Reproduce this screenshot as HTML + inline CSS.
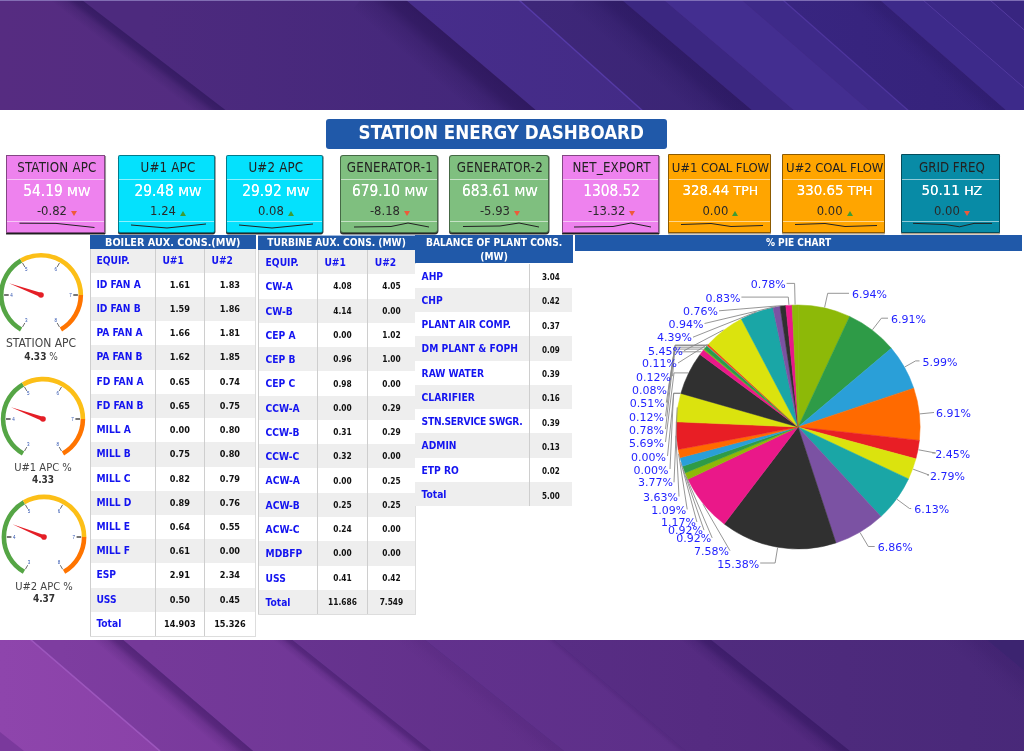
<!DOCTYPE html>
<html lang="en"><head><meta charset="utf-8"><title>Station Energy Dashboard</title>
<style>

html,body{margin:0;padding:0;}
body{width:1024px;height:751px;overflow:hidden;position:relative;background:#4a2a80;font-family:"DejaVu Sans Condensed","Liberation Sans",sans-serif;}
#bg{position:absolute;left:0;top:0;width:1024px;height:751px;}
#panel{position:absolute;left:0;top:110.2px;width:1024px;height:530.1px;background:#fff;}
.abs{position:absolute;}
#title{position:absolute;left:326.3px;top:118.9px;width:340.9px;height:30.2px;background:#2059a9;border-radius:3px;color:#fff;font-weight:700;font-size:18.6px;line-height:27.2px;text-align:center;white-space:nowrap;text-indent:9px;}
.kpi{position:absolute;top:154.6px;height:78.6px;box-sizing:border-box;border:1px solid rgba(0,0,0,.45);text-align:center;white-space:nowrap;}
.kpi.sh{box-shadow:0 1.6px 0.3px rgba(0,0,0,.8),0.9px 0.5px 0.6px rgba(0,0,0,.4);}
.kpi .t{position:absolute;left:2.8px;right:0;top:4px;letter-spacing:.2px;font-size:13.2px;line-height:16px;color:#222;}
.kpi .l1,.kpi .l2{position:absolute;left:0;right:0;height:1px;background:rgba(255,255,255,.55);}
.kpi .l1{top:23px}
.kpi .l2{top:65.2px}
.kpi .v{position:absolute;left:2.8px;right:0;top:26px;font-size:15.3px;line-height:18px;color:#fff;text-shadow:0 0 .3px #fff;}
.kpi .v small{font-size:12.6px;font-family:"DejaVu Sans","Liberation Sans",sans-serif;}
.kpi .d{position:absolute;left:2.8px;right:0;top:47px;font-size:12.9px;line-height:16px;color:#2a2a2a;}
.kpi .d i{display:inline-block;width:0;height:0;margin-left:4px;border-left:3.1px solid transparent;border-right:3.1px solid transparent;position:relative;}
.kpi .d i.up{border-bottom:5px solid #3f9c35;top:1.5px;}
.kpi .d i.dn{border-top:5px solid #ee5a3a;top:1.5px;}
.kpi svg{position:absolute;left:0;top:64.5px;}
.kpi.ns .v{font-size:14.9px;}
.kpi.ns .l1{top:23.8px}
.kpi.ns .t{top:4.6px}
.kpi.ns .d{top:47.6px}
.kpi.ns .l2{top:65.8px}
.kpi.ns svg{top:65px}
.th{position:absolute;background:#2059a9;color:#fff;font-weight:700;font-size:10.8px;text-align:center;white-space:nowrap;}
.row{position:absolute;box-sizing:border-box;}
.row.g{background:#eeeeee;}
.row.w{background:#fff;}
.c{position:absolute;top:0;bottom:0;box-sizing:border-box;border-left:1px solid #cecece;white-space:nowrap;font-weight:700;}
.c.l{color:#1414f0;font-size:10.2px;padding-left:6.6px;}
.c.n{color:#111;text-align:center;}
.glab{position:absolute;width:100px;text-align:center;font-size:12px;line-height:13px;color:#444;white-space:nowrap;}
.glab span{font-size:10px;}
.glab i{font-style:normal;font-size:11.1px;position:relative;top:1px;}
.glab b{color:#333;}

</style></head><body>
<svg id="bg" width="1024" height="751" viewBox="0 0 1024 751">
<defs><clipPath id="ctop"><rect x="0" y="0" width="1024" height="112"/></clipPath><clipPath id="cbot"><rect x="0" y="638" width="1024" height="113"/></clipPath>
<linearGradient id="hg1" gradientUnits="userSpaceOnUse" x1="0" y1="0" x2="230" y2="0"><stop offset="0" stop-color="#562c81"/><stop offset="1" stop-color="#522c80"/></linearGradient>
<linearGradient id="hg2" gradientUnits="userSpaceOnUse" x1="150" y1="0" x2="520" y2="0"><stop offset="0" stop-color="#4d2a7e"/><stop offset="1" stop-color="#42277a"/></linearGradient>
<linearGradient id="hg3" gradientUnits="userSpaceOnUse" x1="420" y1="0" x2="640" y2="0"><stop offset="0" stop-color="#472d8b"/><stop offset="1" stop-color="#432b86"/></linearGradient>
<linearGradient id="hg4" gradientUnits="userSpaceOnUse" x1="530" y1="0" x2="750" y2="0"><stop offset="0" stop-color="#3e2779"/><stop offset="1" stop-color="#3a2474"/></linearGradient>
<linearGradient id="hg5" gradientUnits="userSpaceOnUse" x1="790" y1="0" x2="1000" y2="0"><stop offset="0" stop-color="#382580"/><stop offset="1" stop-color="#35227a"/></linearGradient>
<linearGradient id="sg6" gradientUnits="userSpaceOnUse" x1="82.0" y1="0.0" x2="69.8" y2="15.9"><stop offset="0" stop-color="#2a1558" stop-opacity="0.7"/><stop offset="0.28" stop-color="#2a1558" stop-opacity="0.595"/><stop offset="0.55" stop-color="#2a1558" stop-opacity="0.245"/><stop offset="1" stop-color="#2a1558" stop-opacity="0"/></linearGradient>
<linearGradient id="sg7" gradientUnits="userSpaceOnUse" x1="406.0" y1="0.0" x2="378.8" y2="32.0"><stop offset="0" stop-color="#23104f" stop-opacity="0.6"/><stop offset="0.28" stop-color="#23104f" stop-opacity="0.510"/><stop offset="0.55" stop-color="#23104f" stop-opacity="0.210"/><stop offset="1" stop-color="#23104f" stop-opacity="0"/></linearGradient>
<linearGradient id="sg8" gradientUnits="userSpaceOnUse" x1="622.0" y1="0.0" x2="596.1" y2="30.5"><stop offset="0" stop-color="#1d0e50" stop-opacity="0.42"/><stop offset="0.28" stop-color="#1d0e50" stop-opacity="0.357"/><stop offset="0.55" stop-color="#1d0e50" stop-opacity="0.147"/><stop offset="1" stop-color="#1d0e50" stop-opacity="0"/></linearGradient>
<linearGradient id="sg9" gradientUnits="userSpaceOnUse" x1="742.0" y1="0.0" x2="735.4" y2="7.6"><stop offset="0" stop-color="#1d0e50" stop-opacity="0.0"/><stop offset="0.28" stop-color="#1d0e50" stop-opacity="0.000"/><stop offset="0.55" stop-color="#1d0e50" stop-opacity="0.000"/><stop offset="1" stop-color="#1d0e50" stop-opacity="0"/></linearGradient>
<linearGradient id="sg10" gradientUnits="userSpaceOnUse" x1="880.0" y1="0.0" x2="864.2" y2="18.1"><stop offset="0" stop-color="#1d0e50" stop-opacity="0.22"/><stop offset="0.28" stop-color="#1d0e50" stop-opacity="0.187"/><stop offset="0.55" stop-color="#1d0e50" stop-opacity="0.077"/><stop offset="1" stop-color="#1d0e50" stop-opacity="0"/></linearGradient>
<linearGradient id="hg11" gradientUnits="userSpaceOnUse" x1="0" y1="0" x2="160" y2="0"><stop offset="0" stop-color="#8e45ac"/><stop offset="1" stop-color="#8a42a8"/></linearGradient>
<linearGradient id="hg12" gradientUnits="userSpaceOnUse" x1="60" y1="0" x2="250" y2="0"><stop offset="0" stop-color="#7e3da0"/><stop offset="1" stop-color="#78399b"/></linearGradient>
<linearGradient id="hg13" gradientUnits="userSpaceOnUse" x1="150" y1="0" x2="430" y2="0"><stop offset="0" stop-color="#753999"/><stop offset="1" stop-color="#6d3695"/></linearGradient>
<linearGradient id="hg14" gradientUnits="userSpaceOnUse" x1="300" y1="0" x2="560" y2="0"><stop offset="0" stop-color="#67338f"/><stop offset="1" stop-color="#5f2f88"/></linearGradient>
<linearGradient id="hg15" gradientUnits="userSpaceOnUse" x1="430" y1="0" x2="680" y2="0"><stop offset="0" stop-color="#62318d"/><stop offset="1" stop-color="#5c2f88"/></linearGradient>
<linearGradient id="hg16" gradientUnits="userSpaceOnUse" x1="560" y1="0" x2="850" y2="0"><stop offset="0" stop-color="#582d84"/><stop offset="1" stop-color="#52297e"/></linearGradient>
<linearGradient id="hg17" gradientUnits="userSpaceOnUse" x1="720" y1="0" x2="1090" y2="0"><stop offset="0" stop-color="#502b7e"/><stop offset="1" stop-color="#472878"/></linearGradient>
<linearGradient id="sg18" gradientUnits="userSpaceOnUse" x1="122.0" y1="639.0" x2="109.0" y2="654.2"><stop offset="0" stop-color="#3a1660" stop-opacity="0.6"/><stop offset="0.28" stop-color="#3a1660" stop-opacity="0.510"/><stop offset="0.55" stop-color="#3a1660" stop-opacity="0.210"/><stop offset="1" stop-color="#3a1660" stop-opacity="0"/></linearGradient>
<linearGradient id="sg19" gradientUnits="userSpaceOnUse" x1="291.0" y1="639.0" x2="283.5" y2="648.4"><stop offset="0" stop-color="#35135c" stop-opacity="0.5"/><stop offset="0.28" stop-color="#35135c" stop-opacity="0.425"/><stop offset="0.55" stop-color="#35135c" stop-opacity="0.175"/><stop offset="1" stop-color="#35135c" stop-opacity="0"/></linearGradient>
<linearGradient id="sg20" gradientUnits="userSpaceOnUse" x1="424.0" y1="639.0" x2="411.5" y2="654.6"><stop offset="0" stop-color="#35135c" stop-opacity="0.12"/><stop offset="0.28" stop-color="#35135c" stop-opacity="0.102"/><stop offset="0.55" stop-color="#35135c" stop-opacity="0.042"/><stop offset="1" stop-color="#35135c" stop-opacity="0"/></linearGradient>
<linearGradient id="sg21" gradientUnits="userSpaceOnUse" x1="553.0" y1="639.0" x2="549.1" y2="643.6"><stop offset="0" stop-color="#35135c" stop-opacity="0.18"/><stop offset="0.28" stop-color="#35135c" stop-opacity="0.153"/><stop offset="0.55" stop-color="#35135c" stop-opacity="0.063"/><stop offset="1" stop-color="#35135c" stop-opacity="0"/></linearGradient>
<linearGradient id="sg22" gradientUnits="userSpaceOnUse" x1="710.0" y1="639.0" x2="697.5" y2="654.6"><stop offset="0" stop-color="#2a1258" stop-opacity="0.55"/><stop offset="0.28" stop-color="#2a1258" stop-opacity="0.468"/><stop offset="0.55" stop-color="#2a1258" stop-opacity="0.193"/><stop offset="1" stop-color="#2a1258" stop-opacity="0"/></linearGradient>
<linearGradient id="sg23" gradientUnits="userSpaceOnUse" x1="986.0" y1="639.0" x2="966.8" y2="662.1"><stop offset="0" stop-color="#2a1258" stop-opacity="0.2"/><stop offset="0.28" stop-color="#2a1258" stop-opacity="0.170"/><stop offset="0.55" stop-color="#2a1258" stop-opacity="0.070"/><stop offset="1" stop-color="#2a1258" stop-opacity="0"/></linearGradient>
</defs>
<rect width="1024" height="751" fill="#4a2a80"/>
<g clip-path="url(#ctop)">
<polygon points="-200,0 82,0 228,112 -60,112" fill="url(#hg1)"/>
<polygon points="82,0 406,0 538,112 228,112" fill="url(#hg2)"/>
<polygon points="406,0 519,0 644,112 538,112" fill="url(#hg3)"/>
<polygon points="519,0 622,0 754,112 644,112" fill="url(#hg4)"/>
<polygon points="622,0 664,0 796,112 754,112" fill="#3b2781"/>
<polygon points="664,0 742,0 871,112 796,112" fill="#432e90"/>
<polygon points="742,0 783,0 910,112 871,112" fill="#3e2a89"/>
<polygon points="783,0 880,0 1008,112 910,112" fill="url(#hg5)"/>
<polygon points="880,0 923,0 1052,112 1008,112" fill="#3d2a8a"/>
<polygon points="923,0 990,0 1118,112 1052,112" fill="#3b2886"/>
<polygon points="990,0 1200,0 1340,112 1118,112" fill="#382580"/>
<polygon points="52.8,-22.4 257.2,134.4 245.0,150.3 40.6,-6.5" fill="url(#sg6)"/>
<polygon points="379.6,-22.4 564.4,134.4 537.2,166.4 352.4,9.6" fill="url(#sg7)"/>
<polygon points="595.6,-22.4 780.4,134.4 754.5,164.9 569.7,8.1" fill="url(#sg8)"/>
<polygon points="716.2,-22.4 896.8,134.4 890.2,142.0 709.6,-14.8" fill="url(#sg9)"/>
<polygon points="854.4,-22.4 1033.6,134.4 1017.8,152.5 838.6,-4.3" fill="url(#sg10)"/>
<line x1="519" y1="0" x2="644" y2="112" stroke="#5a3fb0" stroke-opacity="0.8" stroke-width="1.4"/>
<line x1="783" y1="0" x2="910" y2="112" stroke="#5a3fb0" stroke-opacity="0.6" stroke-width="1.2"/>
<line x1="923" y1="0" x2="1052" y2="112" stroke="#6a4fc0" stroke-opacity="0.45" stroke-width="1"/>
<line x1="990" y1="0" x2="1118" y2="112" stroke="#7a5fd0" stroke-opacity="0.4" stroke-width="1"/>
<rect x="0" y="0" width="1024" height="1" fill="#8e7fc0" opacity=".8"/>
</g>
<g clip-path="url(#cbot)">
<polygon points="-200,639 30,639 160,751 -70,751" fill="url(#hg11)"/>
<polygon points="30,639 122,639 253,751 160,751" fill="url(#hg12)"/>
<polygon points="122,639 291,639 431,751 253,751" fill="url(#hg13)"/>
<polygon points="291,639 424,639 564,751 431,751" fill="url(#hg14)"/>
<polygon points="424,639 553,639 686,751 564,751" fill="url(#hg15)"/>
<polygon points="553,639 710,639 850,751 686,751" fill="url(#hg16)"/>
<polygon points="710,639 986,639 1121,751 850,751" fill="url(#hg17)"/>
<polygon points="986,639 1200,639 1340,751 1121,751" fill="#3c2470"/>
<polygon points="95.8,616.6 279.2,773.4 266.2,788.6 82.8,631.8" fill="url(#sg18)"/>
<polygon points="263.0,616.6 459.0,773.4 451.5,782.8 255.5,626.0" fill="url(#sg19)"/>
<polygon points="396.0,616.6 592.0,773.4 579.5,789.0 383.5,632.2" fill="url(#sg20)"/>
<polygon points="526.4,616.6 712.6,773.4 708.7,778.0 522.5,621.2" fill="url(#sg21)"/>
<polygon points="682.0,616.6 878.0,773.4 865.5,789.0 669.5,632.2" fill="url(#sg22)"/>
<polygon points="959.0,616.6 1148.0,773.4 1128.8,796.5 939.8,639.7" fill="url(#sg23)"/>
<line x1="30" y1="639" x2="160" y2="751" stroke="#a860c8" stroke-opacity="0.75" stroke-width="1.6"/>
<polygon points="0,732 24,751 0,751" fill="#7a399c"/>
</g>
</svg>
<div id="panel"></div>
<div id="title">STATION ENERGY DASHBOARD</div>
<div class="kpi sh" style="left:6.3px;width:98.4px;background:#ee82ee;border-radius:0px">
<div class="t">STATION APC</div><div class="l1"></div>
<div class="v">54.19 <small>MW</small></div>
<div class="d">-0.82<i class="dn"></i></div><div class="l2"></div>
<svg width="98.4" height="12" viewBox="0 0 98.4 12"><polyline points="12.5,3.2 49,3.4 87.5,7.5" fill="none" stroke="#222" stroke-width="1"/></svg>
</div>
<div class="kpi sh" style="left:118px;width:97.19999999999999px;background:#04e1fd;border-radius:2px">
<div class="t">U#1 APC</div><div class="l1"></div>
<div class="v">29.48 <small>MW</small></div>
<div class="d">1.24<i class="up"></i></div><div class="l2"></div>
<svg width="97.19999999999999" height="12" viewBox="0 0 97.19999999999999 12"><polyline points="12,5 48,8 87,4" fill="none" stroke="#222" stroke-width="1"/></svg>
</div>
<div class="kpi sh" style="left:226px;width:97px;background:#04e1fd;border-radius:2px">
<div class="t">U#2 APC</div><div class="l1"></div>
<div class="v">29.92 <small>MW</small></div>
<div class="d">0.08<i class="up"></i></div><div class="l2"></div>
<svg width="97" height="12" viewBox="0 0 97 12"><polyline points="12,5 45,8 86,4" fill="none" stroke="#222" stroke-width="1"/></svg>
</div>
<div class="kpi sh" style="left:339.5px;width:98.0px;background:#7fbf7f;border-radius:3px">
<div class="t">GENERATOR-1</div><div class="l1"></div>
<div class="v">679.10 <small>MW</small></div>
<div class="d">-8.18<i class="dn"></i></div><div class="l2"></div>
<svg width="98.0" height="12" viewBox="0 0 98.0 12"><polyline points="13,7 50,6.5 67,3 88,7" fill="none" stroke="#222" stroke-width="1"/></svg>
</div>
<div class="kpi sh" style="left:448.5px;width:100.0px;background:#7fbf7f;border-radius:3px">
<div class="t">GENERATOR-2</div><div class="l1"></div>
<div class="v">683.61 <small>MW</small></div>
<div class="d">-5.93<i class="dn"></i></div><div class="l2"></div>
<svg width="100.0" height="12" viewBox="0 0 100.0 12"><polyline points="13,6.5 50,6 69,3 89,7" fill="none" stroke="#222" stroke-width="1"/></svg>
</div>
<div class="kpi sh" style="left:562px;width:96.5px;background:#ee82ee;border-radius:0px">
<div class="t">NET_EXPORT</div><div class="l1"></div>
<div class="v">1308.52</div>
<div class="d">-13.32<i class="dn"></i></div><div class="l2"></div>
<svg width="96.5" height="12" viewBox="0 0 96.5 12"><polyline points="11,7 50,6.5 68,3 88,7" fill="none" stroke="#222" stroke-width="1"/></svg>
</div>
<div class="kpi ns" style="left:667.5px;width:103.0px;top:154.2px;height:78.9px;box-shadow:0 1.5px 0 rgba(140,120,90,.7);background:#ffa500;border-radius:1px">
<div class="t" style="letter-spacing:-.1px;font-size:13px">U#1 COAL FLOW</div><div class="l1"></div>
<div class="v">328.44 <small>TPH</small></div>
<div class="d">0.00<i class="up"></i></div><div class="l2"></div>
<svg width="103.0" height="12" viewBox="0 0 103.0 12"><polyline points="12,4.5 42,3.5 62,6.5 94,5.5" fill="none" stroke="#222" stroke-width="1"/></svg>
</div>
<div class="kpi ns" style="left:781.5px;width:103.5px;top:154.2px;height:78.9px;box-shadow:0 1.5px 0 rgba(140,120,90,.7);background:#ffa500;border-radius:1px">
<div class="t" style="letter-spacing:-.1px;font-size:13px">U#2 COAL FLOW</div><div class="l1"></div>
<div class="v">330.65 <small>TPH</small></div>
<div class="d">0.00<i class="up"></i></div><div class="l2"></div>
<svg width="103.5" height="12" viewBox="0 0 103.5 12"><polyline points="12,4.5 42,3.5 62,6.5 94,5.5" fill="none" stroke="#222" stroke-width="1"/></svg>
</div>
<div class="kpi ns" style="left:901px;width:99px;top:154.2px;height:78.9px;box-shadow:0 1.5px 0 rgba(140,120,90,.7);background:#088ba6;border-radius:1px">
<div class="t" style="letter-spacing:0">GRID FREQ</div><div class="l1"></div>
<div class="v">50.11 <small>HZ</small></div>
<div class="d">0.00<i class="dn"></i></div><div class="l2"></div>
<svg width="99" height="12" viewBox="0 0 99 12"><polyline points="11,3.3 44,4.6 57.5,6.8 72,3.4 90,3.4" fill="none" stroke="#222" stroke-width="1"/></svg>
</div>
<div class="row g" style="left:89.6px;top:248.50px;width:165.4px;height:24.23px;line-height:24.03px">
<div class="c l" style="left:0.0px;width:65.20000000000002px;padding-left:5.8px">EQUIP.</div>
<div class="c l" style="left:65.20000000000002px;width:49.099999999999994px;">U#1</div>
<div class="c l" style="left:114.30000000000001px;width:51.099999999999994px;">U#2</div>
</div>
<div class="row w" style="left:89.6px;top:272.73px;width:165.4px;height:24.23px;line-height:24.03px">
<div class="c l" style="left:0.0px;width:65.20000000000002px;padding-left:5.8px">ID FAN A</div>
<div class="c n" style="left:65.20000000000002px;width:49.099999999999994px;font-size:9.1px;padding-top:0px;">1.61</div>
<div class="c n" style="left:114.30000000000001px;width:51.099999999999994px;font-size:9.1px;padding-top:0px;">1.83</div>
</div>
<div class="row g" style="left:89.6px;top:296.96px;width:165.4px;height:24.23px;line-height:24.03px">
<div class="c l" style="left:0.0px;width:65.20000000000002px;padding-left:5.8px">ID FAN B</div>
<div class="c n" style="left:65.20000000000002px;width:49.099999999999994px;font-size:9.1px;padding-top:0px;">1.59</div>
<div class="c n" style="left:114.30000000000001px;width:51.099999999999994px;font-size:9.1px;padding-top:0px;">1.86</div>
</div>
<div class="row w" style="left:89.6px;top:321.19px;width:165.4px;height:24.23px;line-height:24.03px">
<div class="c l" style="left:0.0px;width:65.20000000000002px;padding-left:5.8px">PA FAN A</div>
<div class="c n" style="left:65.20000000000002px;width:49.099999999999994px;font-size:9.1px;padding-top:0px;">1.66</div>
<div class="c n" style="left:114.30000000000001px;width:51.099999999999994px;font-size:9.1px;padding-top:0px;">1.81</div>
</div>
<div class="row g" style="left:89.6px;top:345.42px;width:165.4px;height:24.23px;line-height:24.03px">
<div class="c l" style="left:0.0px;width:65.20000000000002px;padding-left:5.8px">PA FAN B</div>
<div class="c n" style="left:65.20000000000002px;width:49.099999999999994px;font-size:9.1px;padding-top:0px;">1.62</div>
<div class="c n" style="left:114.30000000000001px;width:51.099999999999994px;font-size:9.1px;padding-top:0px;">1.85</div>
</div>
<div class="row w" style="left:89.6px;top:369.65px;width:165.4px;height:24.23px;line-height:24.03px">
<div class="c l" style="left:0.0px;width:65.20000000000002px;padding-left:5.8px">FD FAN A</div>
<div class="c n" style="left:65.20000000000002px;width:49.099999999999994px;font-size:9.1px;padding-top:0px;">0.65</div>
<div class="c n" style="left:114.30000000000001px;width:51.099999999999994px;font-size:9.1px;padding-top:0px;">0.74</div>
</div>
<div class="row g" style="left:89.6px;top:393.88px;width:165.4px;height:24.23px;line-height:24.03px">
<div class="c l" style="left:0.0px;width:65.20000000000002px;padding-left:5.8px">FD FAN B</div>
<div class="c n" style="left:65.20000000000002px;width:49.099999999999994px;font-size:9.1px;padding-top:0px;">0.65</div>
<div class="c n" style="left:114.30000000000001px;width:51.099999999999994px;font-size:9.1px;padding-top:0px;">0.75</div>
</div>
<div class="row w" style="left:89.6px;top:418.11px;width:165.4px;height:24.23px;line-height:24.03px">
<div class="c l" style="left:0.0px;width:65.20000000000002px;padding-left:5.8px">MILL A</div>
<div class="c n" style="left:65.20000000000002px;width:49.099999999999994px;font-size:9.1px;padding-top:0px;">0.00</div>
<div class="c n" style="left:114.30000000000001px;width:51.099999999999994px;font-size:9.1px;padding-top:0px;">0.80</div>
</div>
<div class="row g" style="left:89.6px;top:442.34px;width:165.4px;height:24.23px;line-height:24.03px">
<div class="c l" style="left:0.0px;width:65.20000000000002px;padding-left:5.8px">MILL B</div>
<div class="c n" style="left:65.20000000000002px;width:49.099999999999994px;font-size:9.1px;padding-top:0px;">0.75</div>
<div class="c n" style="left:114.30000000000001px;width:51.099999999999994px;font-size:9.1px;padding-top:0px;">0.80</div>
</div>
<div class="row w" style="left:89.6px;top:466.57px;width:165.4px;height:24.23px;line-height:24.03px">
<div class="c l" style="left:0.0px;width:65.20000000000002px;padding-left:5.8px">MILL C</div>
<div class="c n" style="left:65.20000000000002px;width:49.099999999999994px;font-size:9.1px;padding-top:0px;">0.82</div>
<div class="c n" style="left:114.30000000000001px;width:51.099999999999994px;font-size:9.1px;padding-top:0px;">0.79</div>
</div>
<div class="row g" style="left:89.6px;top:490.80px;width:165.4px;height:24.23px;line-height:24.03px">
<div class="c l" style="left:0.0px;width:65.20000000000002px;padding-left:5.8px">MILL D</div>
<div class="c n" style="left:65.20000000000002px;width:49.099999999999994px;font-size:9.1px;padding-top:0px;">0.89</div>
<div class="c n" style="left:114.30000000000001px;width:51.099999999999994px;font-size:9.1px;padding-top:0px;">0.76</div>
</div>
<div class="row w" style="left:89.6px;top:515.03px;width:165.4px;height:24.23px;line-height:24.03px">
<div class="c l" style="left:0.0px;width:65.20000000000002px;padding-left:5.8px">MILL E</div>
<div class="c n" style="left:65.20000000000002px;width:49.099999999999994px;font-size:9.1px;padding-top:0px;">0.64</div>
<div class="c n" style="left:114.30000000000001px;width:51.099999999999994px;font-size:9.1px;padding-top:0px;">0.55</div>
</div>
<div class="row g" style="left:89.6px;top:539.26px;width:165.4px;height:24.23px;line-height:24.03px">
<div class="c l" style="left:0.0px;width:65.20000000000002px;padding-left:5.8px">MILL F</div>
<div class="c n" style="left:65.20000000000002px;width:49.099999999999994px;font-size:9.1px;padding-top:0px;">0.61</div>
<div class="c n" style="left:114.30000000000001px;width:51.099999999999994px;font-size:9.1px;padding-top:0px;">0.00</div>
</div>
<div class="row w" style="left:89.6px;top:563.49px;width:165.4px;height:24.23px;line-height:24.03px">
<div class="c l" style="left:0.0px;width:65.20000000000002px;padding-left:5.8px">ESP</div>
<div class="c n" style="left:65.20000000000002px;width:49.099999999999994px;font-size:9.1px;padding-top:0px;">2.91</div>
<div class="c n" style="left:114.30000000000001px;width:51.099999999999994px;font-size:9.1px;padding-top:0px;">2.34</div>
</div>
<div class="row g" style="left:89.6px;top:587.72px;width:165.4px;height:24.23px;line-height:24.03px">
<div class="c l" style="left:0.0px;width:65.20000000000002px;padding-left:5.8px">USS</div>
<div class="c n" style="left:65.20000000000002px;width:49.099999999999994px;font-size:9.1px;padding-top:0px;">0.50</div>
<div class="c n" style="left:114.30000000000001px;width:51.099999999999994px;font-size:9.1px;padding-top:0px;">0.45</div>
</div>
<div class="row w" style="left:89.6px;top:611.95px;width:165.4px;height:24.23px;line-height:24.03px">
<div class="c l" style="left:0.0px;width:65.20000000000002px;padding-left:5.8px">Total</div>
<div class="c n" style="left:65.20000000000002px;width:49.099999999999994px;font-size:9.1px;padding-top:0px;">14.903</div>
<div class="c n" style="left:114.30000000000001px;width:51.099999999999994px;font-size:9.1px;padding-top:0px;">15.326</div>
</div>
<div class="abs" style="left:255px;top:248.5px;width:1px;height:387.68px;background:#ddd"></div>
<div class="abs" style="left:89.6px;top:636.18px;width:166.4px;height:1px;background:#ddd"></div>
<div class="row g" style="left:258px;top:250.00px;width:156.8px;height:24.27px;line-height:25.47px">
<div class="c l" style="left:0px;width:58.80000000000001px;padding-left:6.6px">EQUIP.</div>
<div class="c l" style="left:58.80000000000001px;width:50.30000000000001px;">U#1</div>
<div class="c l" style="left:109.10000000000002px;width:47.69999999999999px;">U#2</div>
</div>
<div class="row w" style="left:258px;top:274.27px;width:156.8px;height:24.27px;line-height:25.47px">
<div class="c l" style="left:0px;width:58.80000000000001px;padding-left:6.6px">CW-A</div>
<div class="c n" style="left:58.80000000000001px;width:50.30000000000001px;font-size:8.3px;padding-top:0.2px;">4.08</div>
<div class="c n" style="left:109.10000000000002px;width:47.69999999999999px;font-size:8.3px;padding-top:0.2px;">4.05</div>
</div>
<div class="row g" style="left:258px;top:298.54px;width:156.8px;height:24.27px;line-height:25.47px">
<div class="c l" style="left:0px;width:58.80000000000001px;padding-left:6.6px">CW-B</div>
<div class="c n" style="left:58.80000000000001px;width:50.30000000000001px;font-size:8.3px;padding-top:0.2px;">4.14</div>
<div class="c n" style="left:109.10000000000002px;width:47.69999999999999px;font-size:8.3px;padding-top:0.2px;">0.00</div>
</div>
<div class="row w" style="left:258px;top:322.81px;width:156.8px;height:24.27px;line-height:25.47px">
<div class="c l" style="left:0px;width:58.80000000000001px;padding-left:6.6px">CEP A</div>
<div class="c n" style="left:58.80000000000001px;width:50.30000000000001px;font-size:8.3px;padding-top:0.2px;">0.00</div>
<div class="c n" style="left:109.10000000000002px;width:47.69999999999999px;font-size:8.3px;padding-top:0.2px;">1.02</div>
</div>
<div class="row g" style="left:258px;top:347.08px;width:156.8px;height:24.27px;line-height:25.47px">
<div class="c l" style="left:0px;width:58.80000000000001px;padding-left:6.6px">CEP B</div>
<div class="c n" style="left:58.80000000000001px;width:50.30000000000001px;font-size:8.3px;padding-top:0.2px;">0.96</div>
<div class="c n" style="left:109.10000000000002px;width:47.69999999999999px;font-size:8.3px;padding-top:0.2px;">1.00</div>
</div>
<div class="row w" style="left:258px;top:371.35px;width:156.8px;height:24.27px;line-height:25.47px">
<div class="c l" style="left:0px;width:58.80000000000001px;padding-left:6.6px">CEP C</div>
<div class="c n" style="left:58.80000000000001px;width:50.30000000000001px;font-size:8.3px;padding-top:0.2px;">0.98</div>
<div class="c n" style="left:109.10000000000002px;width:47.69999999999999px;font-size:8.3px;padding-top:0.2px;">0.00</div>
</div>
<div class="row g" style="left:258px;top:395.62px;width:156.8px;height:24.27px;line-height:25.47px">
<div class="c l" style="left:0px;width:58.80000000000001px;padding-left:6.6px">CCW-A</div>
<div class="c n" style="left:58.80000000000001px;width:50.30000000000001px;font-size:8.3px;padding-top:0.2px;">0.00</div>
<div class="c n" style="left:109.10000000000002px;width:47.69999999999999px;font-size:8.3px;padding-top:0.2px;">0.29</div>
</div>
<div class="row w" style="left:258px;top:419.89px;width:156.8px;height:24.27px;line-height:25.47px">
<div class="c l" style="left:0px;width:58.80000000000001px;padding-left:6.6px">CCW-B</div>
<div class="c n" style="left:58.80000000000001px;width:50.30000000000001px;font-size:8.3px;padding-top:0.2px;">0.31</div>
<div class="c n" style="left:109.10000000000002px;width:47.69999999999999px;font-size:8.3px;padding-top:0.2px;">0.29</div>
</div>
<div class="row g" style="left:258px;top:444.16px;width:156.8px;height:24.27px;line-height:25.47px">
<div class="c l" style="left:0px;width:58.80000000000001px;padding-left:6.6px">CCW-C</div>
<div class="c n" style="left:58.80000000000001px;width:50.30000000000001px;font-size:8.3px;padding-top:0.2px;">0.32</div>
<div class="c n" style="left:109.10000000000002px;width:47.69999999999999px;font-size:8.3px;padding-top:0.2px;">0.00</div>
</div>
<div class="row w" style="left:258px;top:468.43px;width:156.8px;height:24.27px;line-height:25.47px">
<div class="c l" style="left:0px;width:58.80000000000001px;padding-left:6.6px">ACW-A</div>
<div class="c n" style="left:58.80000000000001px;width:50.30000000000001px;font-size:8.3px;padding-top:0.2px;">0.00</div>
<div class="c n" style="left:109.10000000000002px;width:47.69999999999999px;font-size:8.3px;padding-top:0.2px;">0.25</div>
</div>
<div class="row g" style="left:258px;top:492.70px;width:156.8px;height:24.27px;line-height:25.47px">
<div class="c l" style="left:0px;width:58.80000000000001px;padding-left:6.6px">ACW-B</div>
<div class="c n" style="left:58.80000000000001px;width:50.30000000000001px;font-size:8.3px;padding-top:0.2px;">0.25</div>
<div class="c n" style="left:109.10000000000002px;width:47.69999999999999px;font-size:8.3px;padding-top:0.2px;">0.25</div>
</div>
<div class="row w" style="left:258px;top:516.97px;width:156.8px;height:24.27px;line-height:25.47px">
<div class="c l" style="left:0px;width:58.80000000000001px;padding-left:6.6px">ACW-C</div>
<div class="c n" style="left:58.80000000000001px;width:50.30000000000001px;font-size:8.3px;padding-top:0.2px;">0.24</div>
<div class="c n" style="left:109.10000000000002px;width:47.69999999999999px;font-size:8.3px;padding-top:0.2px;">0.00</div>
</div>
<div class="row g" style="left:258px;top:541.24px;width:156.8px;height:24.27px;line-height:25.47px">
<div class="c l" style="left:0px;width:58.80000000000001px;padding-left:6.6px">MDBFP</div>
<div class="c n" style="left:58.80000000000001px;width:50.30000000000001px;font-size:8.3px;padding-top:0.2px;">0.00</div>
<div class="c n" style="left:109.10000000000002px;width:47.69999999999999px;font-size:8.3px;padding-top:0.2px;">0.00</div>
</div>
<div class="row w" style="left:258px;top:565.51px;width:156.8px;height:24.27px;line-height:25.47px">
<div class="c l" style="left:0px;width:58.80000000000001px;padding-left:6.6px">USS</div>
<div class="c n" style="left:58.80000000000001px;width:50.30000000000001px;font-size:8.3px;padding-top:0.2px;">0.41</div>
<div class="c n" style="left:109.10000000000002px;width:47.69999999999999px;font-size:8.3px;padding-top:0.2px;">0.42</div>
</div>
<div class="row g" style="left:258px;top:589.78px;width:156.8px;height:24.27px;line-height:25.47px">
<div class="c l" style="left:0px;width:58.80000000000001px;padding-left:6.6px">Total</div>
<div class="c n" style="left:58.80000000000001px;width:50.30000000000001px;font-size:8.3px;padding-top:0.2px;">11.686</div>
<div class="c n" style="left:109.10000000000002px;width:47.69999999999999px;font-size:8.3px;padding-top:0.2px;">7.549</div>
</div>
<div class="abs" style="left:414.8px;top:250.0px;width:1px;height:364.05px;background:#ddd"></div>
<div class="abs" style="left:258px;top:614.05px;width:157.8px;height:1px;background:#ddd"></div>
<div class="row w" style="left:415px;top:263.60px;width:156.79999999999995px;height:24.27px;line-height:26.67px">
<div class="c l" style="left:0;width:113.89999999999998px;border-left:none">AHP</div>
<div class="c n" style="left:113.89999999999998px;width:42.89999999999998px;font-size:8.0px;padding-top:1.5px">3.04</div>
</div>
<div class="row g" style="left:415px;top:287.87px;width:156.79999999999995px;height:24.27px;line-height:26.67px">
<div class="c l" style="left:0;width:113.89999999999998px;border-left:none">CHP</div>
<div class="c n" style="left:113.89999999999998px;width:42.89999999999998px;font-size:8.0px;padding-top:1.5px">0.42</div>
</div>
<div class="row w" style="left:415px;top:312.14px;width:156.79999999999995px;height:24.27px;line-height:26.67px">
<div class="c l" style="left:0;width:113.89999999999998px;border-left:none">PLANT AIR COMP.</div>
<div class="c n" style="left:113.89999999999998px;width:42.89999999999998px;font-size:8.0px;padding-top:1.5px">0.37</div>
</div>
<div class="row g" style="left:415px;top:336.41px;width:156.79999999999995px;height:24.27px;line-height:26.67px">
<div class="c l" style="left:0;width:113.89999999999998px;border-left:none">DM PLANT &amp; FOPH</div>
<div class="c n" style="left:113.89999999999998px;width:42.89999999999998px;font-size:8.0px;padding-top:1.5px">0.09</div>
</div>
<div class="row w" style="left:415px;top:360.68px;width:156.79999999999995px;height:24.27px;line-height:26.67px">
<div class="c l" style="left:0;width:113.89999999999998px;border-left:none">RAW WATER</div>
<div class="c n" style="left:113.89999999999998px;width:42.89999999999998px;font-size:8.0px;padding-top:1.5px">0.39</div>
</div>
<div class="row g" style="left:415px;top:384.95px;width:156.79999999999995px;height:24.27px;line-height:26.67px">
<div class="c l" style="left:0;width:113.89999999999998px;border-left:none">CLARIFIER</div>
<div class="c n" style="left:113.89999999999998px;width:42.89999999999998px;font-size:8.0px;padding-top:1.5px">0.16</div>
</div>
<div class="row w" style="left:415px;top:409.22px;width:156.79999999999995px;height:24.27px;line-height:26.67px">
<div class="c l" style="left:0;width:113.89999999999998px;border-left:none"><span style="letter-spacing:-.28px">STN.SERVICE SWGR.</span></div>
<div class="c n" style="left:113.89999999999998px;width:42.89999999999998px;font-size:8.0px;padding-top:1.5px">0.39</div>
</div>
<div class="row g" style="left:415px;top:433.49px;width:156.79999999999995px;height:24.27px;line-height:26.67px">
<div class="c l" style="left:0;width:113.89999999999998px;border-left:none">ADMIN</div>
<div class="c n" style="left:113.89999999999998px;width:42.89999999999998px;font-size:8.0px;padding-top:1.5px">0.13</div>
</div>
<div class="row w" style="left:415px;top:457.76px;width:156.79999999999995px;height:24.27px;line-height:26.67px">
<div class="c l" style="left:0;width:113.89999999999998px;border-left:none">ETP RO</div>
<div class="c n" style="left:113.89999999999998px;width:42.89999999999998px;font-size:8.0px;padding-top:1.5px">0.02</div>
</div>
<div class="row g" style="left:415px;top:482.03px;width:156.79999999999995px;height:24.27px;line-height:26.67px">
<div class="c l" style="left:0;width:113.89999999999998px;border-left:none">Total</div>
<div class="c n" style="left:113.89999999999998px;width:42.89999999999998px;font-size:8.0px;padding-top:1.5px">5.00</div>
</div>
<div class="th" style="left:90px;top:235.3px;width:165.5px;height:12.4px;padding-top:1px;line-height:13px;font-size:10.75px;overflow:hidden">BOILER AUX. CONS.(MW)</div>
<div class="th" style="left:258px;top:236px;width:157.2px;height:13.8px;line-height:13.8px;font-size:10.15px;border-top:1px solid #9db7dc;box-sizing:content-box;margin-top:-1px">TURBINE AUX. CONS. (MW)</div>
<div class="th" style="left:415.2px;top:234.8px;width:157.8px;height:27.6px;padding-top:1px;line-height:14.5px;font-size:10.15px;overflow:hidden">BALANCE OF PLANT CONS.<br>(MW)</div>
<div class="th" style="left:575px;top:234.9px;width:447px;height:15.7px;line-height:16.6px;font-size:10px">% PIE CHART</div>
<svg class="abs" style="left:-8.8px;top:244.5px" width="100" height="100" viewBox="-8.8 244.5 100 100"><path d="M21.30,328.97 A39.800000000000004,39.800000000000004 0 0 1 21.30,260.03" fill="none" stroke="#55a545" stroke-width="4.6"/><path d="M21.30,260.03 A39.800000000000004,39.800000000000004 0 0 1 81.00,294.50" fill="none" stroke="#fcbf17" stroke-width="4.6"/><path d="M81.00,294.50 A39.800000000000004,39.800000000000004 0 0 1 61.10,328.97" fill="none" stroke="#ff7400" stroke-width="4.6"/><line x1="22.75" y1="326.46" x2="25.05" y2="322.47" stroke="#444" stroke-width="0.8"/><text x="26.45" y="321.65" font-size="4.5" fill="#2a4fae" text-anchor="middle" font-family="Liberation Sans, sans-serif">3</text><line x1="4.30" y1="294.50" x2="8.90" y2="294.50" stroke="#1a1a1a" stroke-width="1.2"/><text x="11.70" y="296.10" font-size="4.5" fill="#2a4fae" text-anchor="middle" font-family="Liberation Sans, sans-serif">4</text><line x1="22.75" y1="262.54" x2="25.05" y2="266.53" stroke="#444" stroke-width="0.8"/><text x="26.45" y="270.55" font-size="4.5" fill="#2a4fae" text-anchor="middle" font-family="Liberation Sans, sans-serif">5</text><line x1="59.65" y1="262.54" x2="57.35" y2="266.53" stroke="#444" stroke-width="0.8"/><text x="55.95" y="270.55" font-size="4.5" fill="#2a4fae" text-anchor="middle" font-family="Liberation Sans, sans-serif">6</text><line x1="78.10" y1="294.50" x2="73.50" y2="294.50" stroke="#1a1a1a" stroke-width="1.2"/><text x="70.70" y="296.10" font-size="4.5" fill="#2a4fae" text-anchor="middle" font-family="Liberation Sans, sans-serif">7</text><line x1="59.65" y1="326.46" x2="57.35" y2="322.47" stroke="#444" stroke-width="0.8"/><text x="55.95" y="321.65" font-size="4.5" fill="#2a4fae" text-anchor="middle" font-family="Liberation Sans, sans-serif">8</text><polygon points="9.25,282.87 41.88,292.62 40.52,296.38" fill="#e41e26"/><circle cx="41.2" cy="294.5" r="2.8" fill="#e41e26"/></svg>
<svg class="abs" style="left:-6.6px;top:368.8px" width="100" height="100" viewBox="-6.6 368.8 100 100"><path d="M23.45,453.35 A39.900000000000006,39.900000000000006 0 0 1 23.45,384.25" fill="none" stroke="#55a545" stroke-width="4.6"/><path d="M23.45,384.25 A39.900000000000006,39.900000000000006 0 0 1 83.30,418.80" fill="none" stroke="#fcbf17" stroke-width="4.6"/><path d="M83.30,418.80 A39.900000000000006,39.900000000000006 0 0 1 63.35,453.35" fill="none" stroke="#ff7400" stroke-width="4.6"/><line x1="24.90" y1="450.84" x2="27.20" y2="446.86" stroke="#444" stroke-width="0.8"/><text x="28.60" y="446.03" font-size="4.5" fill="#2a4fae" text-anchor="middle" font-family="Liberation Sans, sans-serif">3</text><line x1="6.40" y1="418.80" x2="11.00" y2="418.80" stroke="#1a1a1a" stroke-width="1.2"/><text x="13.80" y="420.40" font-size="4.5" fill="#2a4fae" text-anchor="middle" font-family="Liberation Sans, sans-serif">4</text><line x1="24.90" y1="386.76" x2="27.20" y2="390.74" stroke="#444" stroke-width="0.8"/><text x="28.60" y="394.77" font-size="4.5" fill="#2a4fae" text-anchor="middle" font-family="Liberation Sans, sans-serif">5</text><line x1="61.90" y1="386.76" x2="59.60" y2="390.74" stroke="#444" stroke-width="0.8"/><text x="58.20" y="394.77" font-size="4.5" fill="#2a4fae" text-anchor="middle" font-family="Liberation Sans, sans-serif">6</text><line x1="80.40" y1="418.80" x2="75.80" y2="418.80" stroke="#1a1a1a" stroke-width="1.2"/><text x="73.00" y="420.40" font-size="4.5" fill="#2a4fae" text-anchor="middle" font-family="Liberation Sans, sans-serif">7</text><line x1="61.90" y1="450.84" x2="59.60" y2="446.86" stroke="#444" stroke-width="0.8"/><text x="58.20" y="446.03" font-size="4.5" fill="#2a4fae" text-anchor="middle" font-family="Liberation Sans, sans-serif">8</text><polygon points="11.45,407.17 44.08,416.92 42.72,420.68" fill="#e41e26"/><circle cx="43.4" cy="418.8" r="2.8" fill="#e41e26"/></svg>
<svg class="abs" style="left:-6.0px;top:487.1px" width="100" height="100" viewBox="-6.0 487.1 100 100"><path d="M23.95,571.83 A40.1,40.1 0 0 1 23.95,502.37" fill="none" stroke="#55a545" stroke-width="4.6"/><path d="M23.95,502.37 A40.1,40.1 0 0 1 84.10,537.10" fill="none" stroke="#fcbf17" stroke-width="4.6"/><path d="M84.10,537.10 A40.1,40.1 0 0 1 64.05,571.83" fill="none" stroke="#ff7400" stroke-width="4.6"/><line x1="25.40" y1="569.32" x2="27.70" y2="565.33" stroke="#444" stroke-width="0.8"/><text x="29.10" y="564.51" font-size="4.5" fill="#2a4fae" text-anchor="middle" font-family="Liberation Sans, sans-serif">3</text><line x1="6.80" y1="537.10" x2="11.40" y2="537.10" stroke="#1a1a1a" stroke-width="1.2"/><text x="14.20" y="538.70" font-size="4.5" fill="#2a4fae" text-anchor="middle" font-family="Liberation Sans, sans-serif">4</text><line x1="25.40" y1="504.88" x2="27.70" y2="508.87" stroke="#444" stroke-width="0.8"/><text x="29.10" y="512.89" font-size="4.5" fill="#2a4fae" text-anchor="middle" font-family="Liberation Sans, sans-serif">5</text><line x1="62.60" y1="504.88" x2="60.30" y2="508.87" stroke="#444" stroke-width="0.8"/><text x="58.90" y="512.89" font-size="4.5" fill="#2a4fae" text-anchor="middle" font-family="Liberation Sans, sans-serif">6</text><line x1="81.20" y1="537.10" x2="76.60" y2="537.10" stroke="#1a1a1a" stroke-width="1.2"/><text x="73.80" y="538.70" font-size="4.5" fill="#2a4fae" text-anchor="middle" font-family="Liberation Sans, sans-serif">7</text><line x1="62.60" y1="569.32" x2="60.30" y2="565.33" stroke="#444" stroke-width="0.8"/><text x="58.90" y="564.51" font-size="4.5" fill="#2a4fae" text-anchor="middle" font-family="Liberation Sans, sans-serif">8</text><polygon points="12.48,524.36 44.75,535.25 43.25,538.95" fill="#e41e26"/><circle cx="44.0" cy="537.1" r="2.8" fill="#e41e26"/></svg>
<div class="glab" style="left:-9px;top:337px">STATION APC<br><span><b>4.33</b> %</span></div>
<div class="glab" style="left:-7px;top:460px"><i>U#1 APC %</i><br><span><b>4.33</b></span></div>
<div class="glab" style="left:-6px;top:579px"><i>U#2 APC %</i><br><span><b>4.37</b></span></div>
<svg class="abs" style="left:575px;top:250px" width="449" height="389" viewBox="575 250 449 389" font-family="DejaVu Sans, Liberation Sans, sans-serif" font-size="11">
<path d="M798.1,427.0 L798.10,305.00 A122,122 0 0 1 849.63,316.42 Z" fill="#8db908" stroke="#8db908" stroke-width="0.5" stroke-linejoin="round"/>
<path d="M798.1,427.0 L849.63,316.42 A122,122 0 0 1 891.37,348.35 Z" fill="#2e9b47" stroke="#2e9b47" stroke-width="0.5" stroke-linejoin="round"/>
<path d="M798.1,427.0 L891.37,348.35 A122,122 0 0 1 913.74,388.14 Z" fill="#2a9fd8" stroke="#2a9fd8" stroke-width="0.5" stroke-linejoin="round"/>
<path d="M798.1,427.0 L913.74,388.14 A122,122 0 0 1 919.36,440.39 Z" fill="#ff6a00" stroke="#ff6a00" stroke-width="0.5" stroke-linejoin="round"/>
<path d="M798.1,427.0 L919.36,440.39 A122,122 0 0 1 915.88,458.82 Z" fill="#e81e25" stroke="#e81e25" stroke-width="0.5" stroke-linejoin="round"/>
<path d="M798.1,427.0 L915.88,458.82 A122,122 0 0 1 908.52,478.88 Z" fill="#dbe30e" stroke="#dbe30e" stroke-width="0.5" stroke-linejoin="round"/>
<path d="M798.1,427.0 L908.52,478.88 A122,122 0 0 1 880.94,516.56 Z" fill="#1aa6a6" stroke="#1aa6a6" stroke-width="0.5" stroke-linejoin="round"/>
<path d="M798.1,427.0 L880.94,516.56 A122,122 0 0 1 835.95,542.98 Z" fill="#7b52a3" stroke="#7b52a3" stroke-width="0.5" stroke-linejoin="round"/>
<path d="M798.1,427.0 L835.95,542.98 A122,122 0 0 1 724.18,524.05 Z" fill="#303030" stroke="#303030" stroke-width="0.5" stroke-linejoin="round"/>
<path d="M798.1,427.0 L724.18,524.05 A122,122 0 0 1 687.91,479.36 Z" fill="#ea1889" stroke="#ea1889" stroke-width="0.5" stroke-linejoin="round"/>
<path d="M798.1,427.0 L687.91,479.36 A122,122 0 0 1 685.07,472.91 Z" fill="#8db908" stroke="#8db908" stroke-width="0.5" stroke-linejoin="round"/>
<path d="M798.1,427.0 L685.07,472.91 A122,122 0 0 1 682.60,466.30 Z" fill="#2e9b47" stroke="#2e9b47" stroke-width="0.5" stroke-linejoin="round"/>
<path d="M798.1,427.0 L682.60,466.30 A122,122 0 0 1 680.03,457.71 Z" fill="#2a9fd8" stroke="#2a9fd8" stroke-width="0.5" stroke-linejoin="round"/>
<path d="M798.1,427.0 L680.03,457.71 A122,122 0 0 1 678.20,449.56 Z" fill="#ff6a00" stroke="#ff6a00" stroke-width="0.5" stroke-linejoin="round"/>
<path d="M798.1,427.0 L678.20,449.56 A122,122 0 0 1 676.21,421.87 Z" fill="#e81e25" stroke="#e81e25" stroke-width="0.5" stroke-linejoin="round"/>
<path d="M798.1,427.0 L676.21,421.87 A122,122 0 0 1 680.82,393.40 Z" fill="#dbe30e" stroke="#dbe30e" stroke-width="0.5" stroke-linejoin="round"/>
<path d="M798.1,427.0 L680.82,393.40 A122,122 0 0 1 699.99,354.49 Z" fill="#303030" stroke="#303030" stroke-width="0.5" stroke-linejoin="round"/>
<path d="M798.1,427.0 L699.99,354.49 A122,122 0 0 1 703.66,349.77 Z" fill="#ea1889" stroke="#ea1889" stroke-width="0.5" stroke-linejoin="round"/>
<path d="M798.1,427.0 L703.66,349.77 A122,122 0 0 1 704.24,349.06 Z" fill="#8db908" stroke="#8db908" stroke-width="0.5" stroke-linejoin="round"/>
<path d="M798.1,427.0 L704.24,349.06 A122,122 0 0 1 706.79,346.09 Z" fill="#2e9b47" stroke="#2e9b47" stroke-width="0.5" stroke-linejoin="round"/>
<path d="M798.1,427.0 L706.79,346.09 A122,122 0 0 1 707.20,345.63 Z" fill="#2a9fd8" stroke="#2a9fd8" stroke-width="0.5" stroke-linejoin="round"/>
<path d="M798.1,427.0 L707.20,345.63 A122,122 0 0 1 707.81,344.95 Z" fill="#ff6a00" stroke="#ff6a00" stroke-width="0.5" stroke-linejoin="round"/>
<path d="M798.1,427.0 L707.81,344.95 A122,122 0 0 1 708.38,344.33 Z" fill="#e81e25" stroke="#e81e25" stroke-width="0.5" stroke-linejoin="round"/>
<path d="M798.1,427.0 L708.38,344.33 A122,122 0 0 1 741.35,319.00 Z" fill="#dbe30e" stroke="#dbe30e" stroke-width="0.5" stroke-linejoin="round"/>
<path d="M798.1,427.0 L741.35,319.00 A122,122 0 0 1 772.91,307.63 Z" fill="#1aa6a6" stroke="#1aa6a6" stroke-width="0.5" stroke-linejoin="round"/>
<path d="M798.1,427.0 L772.91,307.63 A122,122 0 0 1 780.00,306.35 Z" fill="#7b52a3" stroke="#7b52a3" stroke-width="0.5" stroke-linejoin="round"/>
<path d="M798.1,427.0 L780.00,306.35 A122,122 0 0 1 785.78,305.62 Z" fill="#303030" stroke="#303030" stroke-width="0.5" stroke-linejoin="round"/>
<path d="M798.1,427.0 L785.78,305.62 A122,122 0 0 1 792.12,305.15 Z" fill="#ea1889" stroke="#ea1889" stroke-width="0.5" stroke-linejoin="round"/>
<path d="M798.1,427.0 L792.12,305.15 A122,122 0 0 1 798.10,305.00 Z" fill="#8db908" stroke="#8db908" stroke-width="0.5" stroke-linejoin="round"/>
<g fill="none" stroke="#8a8a8a" stroke-width="0.9"><polyline points="824.6,307.4 827.7,293.3 849.0,293.3"/><polyline points="872.5,329.7 881.4,318.2 888.0,318.2"/><polyline points="904.9,366.9 915.6,360.9 919.5,360.9"/><polyline points="919.9,413.9 933.8,412.5 933.0,412.5"/><polyline points="918.5,449.8 935.6,453.0 932.2,453.0"/><polyline points="913.1,469.2 929.0,475.0 927.0,475.0"/><polyline points="897.0,499.3 909.5,508.5 911.2,508.5"/><polyline points="860.1,532.6 868.3,546.5 874.7,546.5"/><polyline points="777.6,547.8 775.1,563.0 760.2,563.0"/><polyline points="703.0,504.2 730.0,550.7"/><polyline points="686.0,476.4 712.2,537.9"/><polyline points="683.3,469.8 704.0,530.1"/><polyline points="680.8,462.2 696.9,522.0"/><polyline points="678.6,453.8 687.2,509.4"/><polyline points="675.9,435.8 679.0,496.5"/><polyline points="677.2,407.4 674.0,482.3"/><polyline points="680.3,393.3 673.5,393.3 670.0,469.0"/><polyline points="680.3,393.3 673.8,393.3 667.5,456.0"/><polyline points="688.2,372.9 674.0,372.9 665.5,442.0"/><polyline points="701.4,351.8 674.2,351.8 665.5,429.1"/><polyline points="703.6,349.1 674.5,349.1 665.5,416.3"/><polyline points="705.1,347.2 674.8,347.2 666.3,402.7"/><polyline points="706.6,345.5 675.0,345.5 668.5,389.6"/><polyline points="707.1,345.0 675.2,345.0 672.5,376.2"/><polyline points="707.7,344.3 678.0,363.0"/><polyline points="723.5,329.9 684.0,350.7"/><polyline points="756.6,311.8 693.0,337.2"/><polyline points="776.4,306.4 704.5,323.5"/><polyline points="782.8,305.5 719.0,310.8"/><polyline points="788.9,304.8 788.3,297.1 741.4,297.1"/><polyline points="795.1,304.5 794.6,283.4 786.6,283.4"/></g>
<g fill="#1f1fff"><text x="852" y="297.9" text-anchor="start">6.94%</text><text x="891" y="322.8" text-anchor="start">6.91%</text><text x="922.5" y="365.5" text-anchor="start">5.99%</text><text x="936" y="417.1" text-anchor="start">6.91%</text><text x="935.2" y="457.6" text-anchor="start">2.45%</text><text x="930" y="479.6" text-anchor="start">2.79%</text><text x="914.2" y="513.1" text-anchor="start">6.13%</text><text x="877.7" y="551.1" text-anchor="start">6.86%</text><text x="759.2" y="567.6" text-anchor="end">15.38%</text><text x="729" y="554.8" text-anchor="end">7.58%</text><text x="711.2" y="542.0" text-anchor="end">0.92%</text><text x="703" y="534.2" text-anchor="end">0.92%</text><text x="695.9" y="526.1" text-anchor="end">1.17%</text><text x="686.2" y="513.5" text-anchor="end">1.09%</text><text x="678" y="500.6" text-anchor="end">3.63%</text><text x="673" y="486.4" text-anchor="end">3.77%</text><text x="668.5" y="473.6" text-anchor="end">0.00%</text><text x="666" y="460.6" text-anchor="end">0.00%</text><text x="664" y="446.6" text-anchor="end">5.69%</text><text x="664" y="433.7" text-anchor="end">0.78%</text><text x="664" y="420.9" text-anchor="end">0.12%</text><text x="664.8" y="407.3" text-anchor="end">0.51%</text><text x="667" y="394.2" text-anchor="end">0.08%</text><text x="671" y="380.8" text-anchor="end">0.12%</text><text x="677" y="367.1" text-anchor="end">0.11%</text><text x="683" y="354.8" text-anchor="end">5.45%</text><text x="692" y="341.3" text-anchor="end">4.39%</text><text x="703.5" y="327.6" text-anchor="end">0.94%</text><text x="718" y="314.9" text-anchor="end">0.76%</text><text x="740.4" y="301.7" text-anchor="end">0.83%</text><text x="785.6" y="288.0" text-anchor="end">0.78%</text></g>
</svg>
</body></html>
